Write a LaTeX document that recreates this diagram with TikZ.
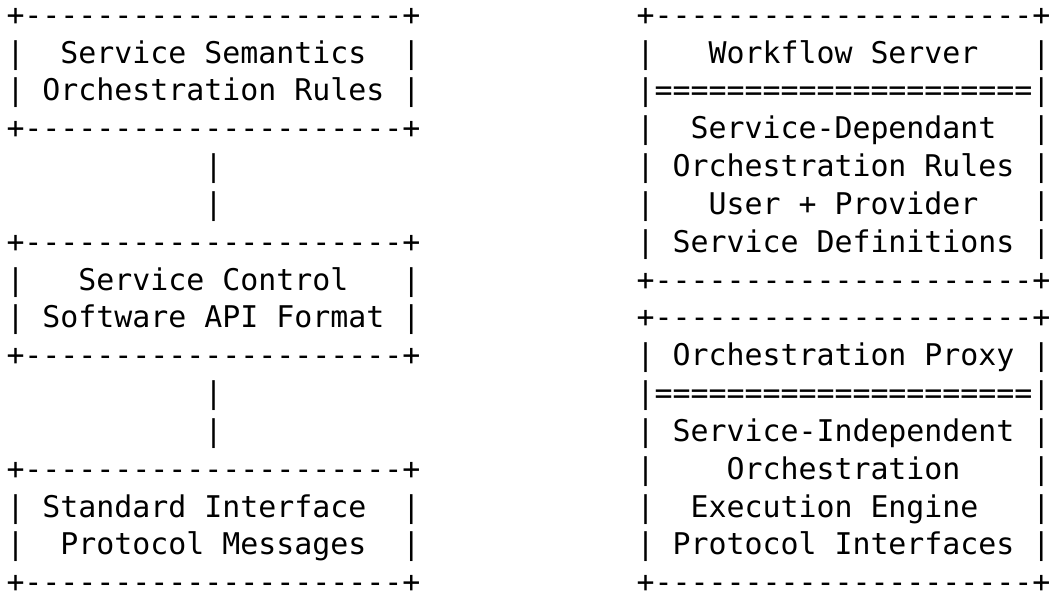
\documentclass[tikz,border=0pt]{standalone}
\usepackage{fontspec}
\setmonofont{DejaVu Sans Mono}
\begin{document}
\begin{tikzpicture}[x=9pt,y=-18.92pt,
  asc/.style={anchor=base west,inner sep=0pt,outer sep=0pt,text=black,
    font=\ttfamily\fontsize{14.95pt}{17pt}\selectfont}]
\useasboundingbox (0,0) rectangle (58.6667,16.0412);
\newcommand\ascline[4]{\node[asc] (#1) at ({#2+0.3611},{#3+0.666}) {#4};}
% left column
\ascline{la0}{0}{0}{+---------------------+}
\ascline{la1}{0}{1}{|\ \ Service\ Semantics\ \ |}
\ascline{la2}{0}{2}{|\ Orchestration\ Rules\ |}
\ascline{la3}{0}{3}{+---------------------+}
\ascline{lc1}{11}{4}{|}
\ascline{lc2}{11}{5}{|}
\ascline{lb0}{0}{6}{+---------------------+}
\ascline{lb1}{0}{7}{|\ \ \ Service\ Control\ \ \ |}
\ascline{lb2}{0}{8}{|\ Software\ API\ Format\ |}
\ascline{lb3}{0}{9}{+---------------------+}
\ascline{lc3}{11}{10}{|}
\ascline{lc4}{11}{11}{|}
\ascline{ld0}{0}{12}{+---------------------+}
\ascline{ld1}{0}{13}{|\ Standard\ Interface\ \ |}
\ascline{ld2}{0}{14}{|\ \ Protocol\ Messages\ \ |}
\ascline{ld3}{0}{15}{+---------------------+}
% right column
\ascline{ra0}{35}{0}{+---------------------+}
\ascline{ra1}{35}{1}{|\ \ \ Workflow\ Server\ \ \ |}
\ascline{ra2}{35}{2}{|=====================|}
\ascline{ra3}{35}{3}{|\ \ Service-Dependant\ \ |}
\ascline{ra4}{35}{4}{|\ Orchestration\ Rules\ |}
\ascline{ra5}{35}{5}{|\ \ \ User\ +\ Provider\ \ \ |}
\ascline{ra6}{35}{6}{|\ Service\ Definitions\ |}
\ascline{ra7}{35}{7}{+---------------------+}
\ascline{rb0}{35}{8}{+---------------------+}
\ascline{rb1}{35}{9}{|\ Orchestration\ Proxy\ |}
\ascline{rb2}{35}{10}{|=====================|}
\ascline{rb3}{35}{11}{|\ Service-Independent\ |}
\ascline{rb4}{35}{12}{|\ \ \ \ Orchestration\ \ \ \ |}
\ascline{rb5}{35}{13}{|\ \ Execution\ Engine\ \ \ |}
\ascline{rb6}{35}{14}{|\ Protocol\ Interfaces\ |}
\ascline{rb7}{35}{15}{+---------------------+}
\end{tikzpicture}
\end{document}
